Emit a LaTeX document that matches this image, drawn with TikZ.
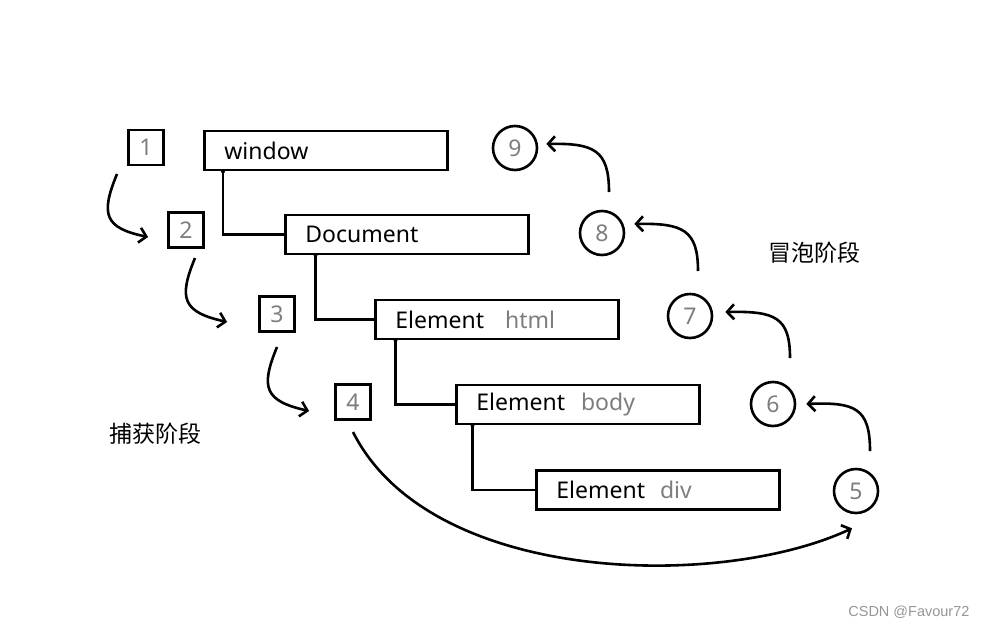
\documentclass[tikz,border=0pt]{standalone}
\usepackage{fontspec}
\setmainfont{Noto Sans}
\newfontfamily\cjk{Noto Sans CJK SC}
\newfontfamily\wmfont{Liberation Sans}
\usetikzlibrary{arrows.meta,calc}
\definecolor{numgray}{RGB}{125,125,125}
\definecolor{wmgray}{RGB}{150,150,150}
\begin{document}
\begin{tikzpicture}[x=1pt,y=-1pt,
  numbox/.style={draw, line width=2.8pt, minimum width=35pt, minimum height=35pt, inner sep=0pt, text=numgray, font=\fontsize{23}{23}\selectfont},
  numcirc/.style={circle, draw, line width=2.6pt, minimum size=44pt, inner sep=0pt, text=numgray, font=\fontsize{23}{23}\selectfont},
  elbox/.style={draw, line width=2.8pt, minimum width=243pt, minimum height=39pt, inner xsep=20pt, inner ysep=0pt, text width=203pt, align=left, anchor=north west, font=\fontsize{23}{23}\selectfont},
  tree/.style={line width=2.6pt},
  flow/.style={line width=2.6pt, -{Straight Barb[length=7pt,width=15pt,line width=2.6pt]}},
  sub/.style={text=numgray},
  phase/.style={font=\cjk\fontsize{23}{23}\selectfont}
]
\useasboundingbox (0,0) rectangle (988,627);
% tree boxes
\node[elbox] (win) at (203,129.5) {window};
\node[elbox] (doc) at (284,213.5) {Document};
\node[elbox] (html) at (374,298.5) {Element\hspace{21pt}{\color{numgray}html}};
\node[elbox] (body) at (455,383.5) {Element\hspace{16pt}{\color{numgray}body}};
\node[elbox] (div) at (535,469) {Element\hspace{15pt}{\color{numgray}div}};
% tree connectors
\draw[tree] ($(win.south west)+(20,0)$) |- (doc.west);
\fill ($(win.south west)+(20,0)$ |- doc.west) circle (2pt);
\draw[tree] ($(doc.south west)+(31.5,0)$) |- (html.west);
\fill ($(doc.south west)+(31.5,0)$ |- html.west) circle (2pt);
\draw[tree] ($(html.south west)+(21.5,0)$) |- (body.west);
\fill ($(html.south west)+(21.5,0)$ |- body.west) circle (2pt);
\draw[tree] ($(body.south west)+(17.5,0)$) |- (div.west);
\fill ($(body.south west)+(17.5,0)$ |- div.west) circle (2pt);
% capture boxes
\node[numbox] (b1) at (146,147.5) {1};
\node[numbox] (b2) at (186,230) {2};
\node[numbox] (b3) at (277,314) {3};
\node[numbox] (b4) at (353,402) {4};
% bubble circles
\node[numcirc] (c5) at (856,491) {5};
\node[numcirc] (c6) at (773,404) {6};
\node[numcirc] (c7) at (690,316) {7};
\node[numcirc] (c8) at (602,233) {8};
\node[numcirc] (c9) at (515,148) {9};
% capture arrows
\coordinate (s1) at (117,174);
\coordinate (s2) at (195,258);
\coordinate (s3) at (277,347);
\coordinate (s4) at (353,432);
\draw[flow] (s1) .. controls (100,215) and (105,228) .. ([shift={(-19,7)}]b2.west);
\draw[flow] (s2) .. controls (178,299) and (183,312) .. ([shift={(-31,8)}]b3.west);
\draw[flow] (s3) .. controls (260,388) and (265,401) .. ([shift={(-25,9)}]b4.west);
\draw[flow] (s4) .. controls (430,585) and (720,590) .. ([shift={(-4,14)}]c5.south);
% bubble arrows
\coordinate (t5) at (870,451);
\coordinate (t6) at (790,358);
\coordinate (t7) at (698,271);
\coordinate (t8) at (609,192);
\draw[flow] (t5) .. controls (870,408) and (855,402) .. ([xshift=10]c6.east);
\draw[flow] (t6) .. controls (790,317) and (775,311) .. ([shift={(12,-4)}]c7.east);
\draw[flow] (t7) .. controls (698,230) and (683,223) .. ([shift={(9,-9)}]c8.east);
\draw[flow] (t8) .. controls (609,150) and (594,143) .. ([shift={(8,-4)}]c9.east);
% phase labels
\node[phase] (bub) at (814,253) {冒泡阶段};
\node[phase] (cap) at (155,434) {捕获阶段};
% watermark
\node[text=wmgray, font=\wmfont\fontsize{14.5}{14.5}\selectfont, anchor=east] (wm) at (973,612) {CSDN @Favour72};
\end{tikzpicture}
\end{document}
